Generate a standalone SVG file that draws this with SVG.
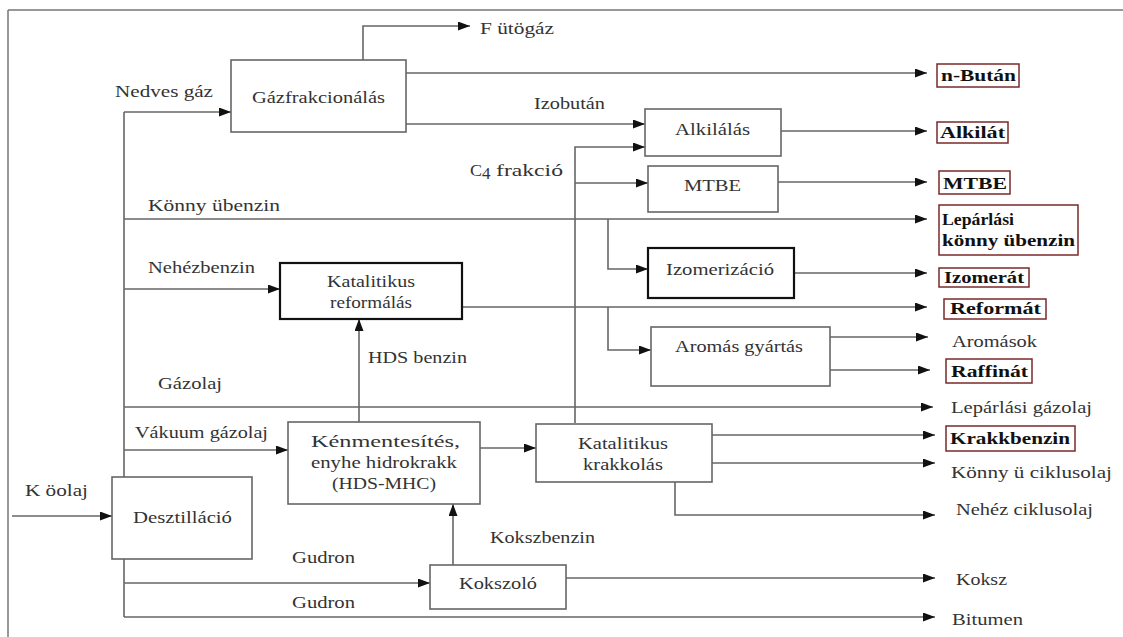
<svg xmlns="http://www.w3.org/2000/svg" width="1123" height="637" viewBox="0 0 1123 637">
<style>
text{font-family:"Liberation Serif","DejaVu Serif",serif;font-size:17px;fill:#333}
.box{fill:#fff;stroke:#666;stroke-width:1.6}
.tbox{fill:#fff;stroke:#111;stroke-width:2.2}
.obox{fill:#fff;stroke:#7a2a2a;stroke-width:1.5}
.ot{font-weight:bold;fill:#111}
.ln{fill:none;stroke:#666;stroke-width:1.6}
.frame{fill:none;stroke:#777;stroke-width:1.5}
</style>
<defs>
<marker id="ah" markerUnits="userSpaceOnUse" markerWidth="13" markerHeight="10" refX="12" refY="4.5" orient="auto">
<path d="M0,0 L12,4.5 L0,9 z" fill="#111"/>
</marker>
</defs>
<path class="frame" d="M8,10 H1123 M8,10 V637"/>
<g id="connectors">
<path class="ln" d="M12,516 H112" marker-end="url(#ah)"/>
<path class="ln" d="M124,112 V477 M124,559 V617"/>
<path class="ln" d="M124,112 H231" marker-end="url(#ah)"/>
<path class="ln" d="M124,219 H927" marker-end="url(#ah)"/>
<path class="ln" d="M124,289 H280" marker-end="url(#ah)"/>
<path class="ln" d="M124,407 H933" marker-end="url(#ah)"/>
<path class="ln" d="M124,450 H288" marker-end="url(#ah)"/>
<path class="ln" d="M124,583 H430" marker-end="url(#ah)"/>
<path class="ln" d="M124,617 H935" marker-end="url(#ah)"/>
<path class="ln" d="M363,60 V26 H470" marker-end="url(#ah)"/>
<path class="ln" d="M406,73 H927" marker-end="url(#ah)"/>
<path class="ln" d="M406,124 H645" marker-end="url(#ah)"/>
<path class="ln" d="M575,423 V147 H645" marker-end="url(#ah)"/>
<path class="ln" d="M575,183 H648" marker-end="url(#ah)"/>
<path class="ln" d="M781,131 H927" marker-end="url(#ah)"/>
<path class="ln" d="M778,182 H927" marker-end="url(#ah)"/>
<path class="ln" d="M608,219 V269 H648" marker-end="url(#ah)"/>
<path class="ln" d="M462,307 H927" marker-end="url(#ah)"/>
<path class="ln" d="M608,307 V350 H651" marker-end="url(#ah)"/>
<path class="ln" d="M794,273 H927" marker-end="url(#ah)"/>
<path class="ln" d="M830,337 H928" marker-end="url(#ah)"/>
<path class="ln" d="M830,370 H930" marker-end="url(#ah)"/>
<path class="ln" d="M359,422 V319" marker-end="url(#ah)"/>
<path class="ln" d="M480,448 H536" marker-end="url(#ah)"/>
<path class="ln" d="M712,435 H935" marker-end="url(#ah)"/>
<path class="ln" d="M712,463 H935" marker-end="url(#ah)"/>
<path class="ln" d="M675,482 V515 H935" marker-end="url(#ah)"/>
<path class="ln" d="M453,565 V504" marker-end="url(#ah)"/>
<path class="ln" d="M566,578 H935" marker-end="url(#ah)"/>
</g>
<g id="labels">
<text x="115" y="97" textLength="98" lengthAdjust="spacingAndGlyphs">Nedves gáz</text>
<text x="480" y="34" textLength="74" lengthAdjust="spacingAndGlyphs">F ütögáz</text>
<text x="534" y="109" textLength="71" lengthAdjust="spacingAndGlyphs">Izobután</text>
<text x="470" y="176" textLength="12" lengthAdjust="spacingAndGlyphs">C</text>
<text x="482" y="179" font-size="9">4</text>
<text x="496" y="176" textLength="67" lengthAdjust="spacingAndGlyphs">frakció</text>
<text x="148" y="211" textLength="132" lengthAdjust="spacingAndGlyphs">Könny  übenzin</text>
<text x="148" y="273" textLength="107" lengthAdjust="spacingAndGlyphs">Nehézbenzin</text>
<text x="368" y="363" textLength="99" lengthAdjust="spacingAndGlyphs">HDS benzin</text>
<text x="158" y="389" textLength="64" lengthAdjust="spacingAndGlyphs">Gázolaj</text>
<text x="135" y="438" textLength="133" lengthAdjust="spacingAndGlyphs">Vákuum gázolaj</text>
<text x="490" y="543" textLength="105" lengthAdjust="spacingAndGlyphs">Kokszbenzin</text>
<text x="292" y="563" textLength="63" lengthAdjust="spacingAndGlyphs">Gudron</text>
<text x="292" y="608" textLength="63" lengthAdjust="spacingAndGlyphs">Gudron</text>
<text x="25" y="496" textLength="63" lengthAdjust="spacingAndGlyphs">K öolaj</text>
<text x="952" y="347" textLength="85" lengthAdjust="spacingAndGlyphs">Aromások</text>
<text x="951" y="413" textLength="141" lengthAdjust="spacingAndGlyphs">Lepárlási gázolaj</text>
<text x="951" y="478" textLength="161" lengthAdjust="spacingAndGlyphs">Könny  ü ciklusolaj</text>
<text x="956" y="515" textLength="137" lengthAdjust="spacingAndGlyphs">Nehéz ciklusolaj</text>
<text x="956" y="585" textLength="51" lengthAdjust="spacingAndGlyphs">Koksz</text>
<text x="952" y="625" textLength="71" lengthAdjust="spacingAndGlyphs">Bitumen</text>
</g>
<g id="gazfrak"><rect class="box" x="231" y="60" width="175" height="72"/><text x="252" y="103" textLength="133" lengthAdjust="spacingAndGlyphs">Gázfrakcionálás</text></g>
<g id="alkilalas"><rect class="box" x="645" y="109" width="136" height="47"/><text x="675" y="135" textLength="75" lengthAdjust="spacingAndGlyphs">Alkilálás</text></g>
<g id="mtbe"><rect class="box" x="648" y="166" width="130" height="46"/><text x="684" y="191" textLength="57" lengthAdjust="spacingAndGlyphs">MTBE</text></g>
<g id="reform"><rect class="tbox" x="280" y="263" width="182" height="56"/><text x="327" y="287" textLength="88" lengthAdjust="spacingAndGlyphs">Katalitikus</text><text x="330" y="308" textLength="82" lengthAdjust="spacingAndGlyphs">reformálás</text></g>
<g id="izomer"><rect class="tbox" x="648" y="248" width="146" height="50"/><text x="666" y="275" textLength="108" lengthAdjust="spacingAndGlyphs">Izomerizáció</text></g>
<g id="aromas"><rect class="box" x="651" y="327" width="179" height="59"/><text x="675" y="352" textLength="128" lengthAdjust="spacingAndGlyphs">Aromás gyártás</text></g>
<g id="kenment"><rect class="box" x="288" y="422" width="192" height="82"/><text x="311" y="447" textLength="149" lengthAdjust="spacingAndGlyphs">Kénmentesítés,</text><text x="311" y="468" textLength="146" lengthAdjust="spacingAndGlyphs">enyhe hidrokrakk</text><text x="332" y="489" textLength="104" lengthAdjust="spacingAndGlyphs">(HDS-MHC)</text></g>
<g id="krakk"><rect class="box" x="536" y="424" width="176" height="58"/><text x="578" y="449" textLength="90" lengthAdjust="spacingAndGlyphs">Katalitikus</text><text x="583" y="470" textLength="80" lengthAdjust="spacingAndGlyphs">krakkolás</text></g>
<g id="kokszolo"><rect class="box" x="430" y="565" width="136" height="44"/><text x="459" y="589" textLength="78" lengthAdjust="spacingAndGlyphs">Kokszoló</text></g>
<g id="deszt"><rect class="box" x="112" y="477" width="140" height="82"/><text x="133" y="523" textLength="99" lengthAdjust="spacingAndGlyphs">Desztilláció</text></g>
<g id="out-nbutan"><rect class="obox" x="937" y="64" width="82" height="23"/><text class="ot" x="941" y="81" textLength="75" lengthAdjust="spacingAndGlyphs">n-Bután</text></g>
<g id="out-alkilat"><rect class="obox" x="937" y="122" width="71" height="21"/><text class="ot" x="940" y="138" textLength="65" lengthAdjust="spacingAndGlyphs">Alkilát</text></g>
<g id="out-mtbe"><rect class="obox" x="939" y="171" width="71" height="23"/><text class="ot" x="943" y="189" textLength="64" lengthAdjust="spacingAndGlyphs">MTBE</text></g>
<g id="out-lepkb"><rect class="obox" x="939" y="205" width="139" height="50"/><text class="ot" x="942" y="225" textLength="72" lengthAdjust="spacingAndGlyphs">Lepárlási</text><text class="ot" x="942" y="246" textLength="133" lengthAdjust="spacingAndGlyphs">könny  übenzin</text></g>
<g id="out-izomerat"><rect class="obox" x="939" y="268" width="90" height="19"/><text class="ot" x="944" y="283" textLength="80" lengthAdjust="spacingAndGlyphs">Izomerát</text></g>
<g id="out-reformat"><rect class="obox" x="944" y="299" width="102" height="20"/><text class="ot" x="950" y="314" textLength="91" lengthAdjust="spacingAndGlyphs">Reformát</text></g>
<g id="out-raffinat"><rect class="obox" x="946" y="359" width="86" height="24"/><text class="ot" x="951" y="377" textLength="77" lengthAdjust="spacingAndGlyphs">Raffinát</text></g>
<g id="out-krakkbenzin"><rect class="obox" x="946" y="426" width="129" height="25"/><text class="ot" x="950" y="444" textLength="120" lengthAdjust="spacingAndGlyphs">Krakkbenzin</text></g>
</svg>
